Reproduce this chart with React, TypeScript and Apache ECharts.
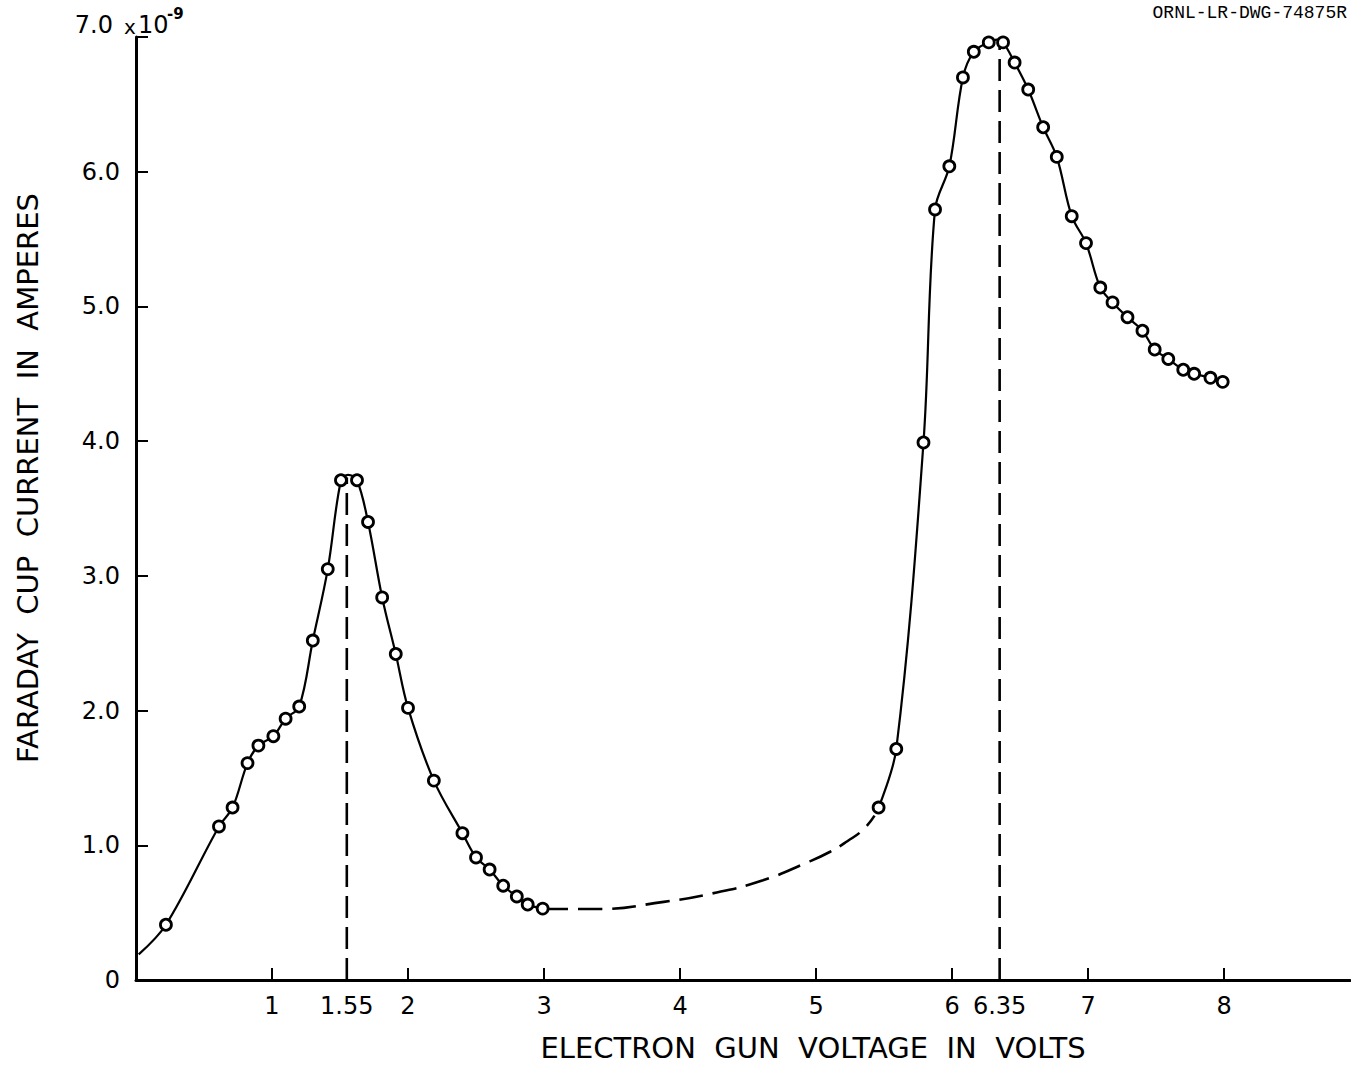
import React, { useEffect, useRef } from "react";
import * as echarts from "echarts";

// Measured points (voltage in V, current in units of 1e-9 A)
const pointV = [
  0.22, 0.61, 0.71, 0.82, 0.9, 1.01, 1.1, 1.2, 1.3, 1.41, 1.507, 1.625, 1.706, 1.81, 1.91, 2.0,
  2.19, 2.4, 2.5, 2.6, 2.7, 2.8, 2.88, 2.99,
  5.46, 5.59, 5.79, 5.875, 5.98, 6.08, 6.16, 6.27, 6.375, 6.46, 6.56, 6.67, 6.77, 6.88, 6.985,
  7.09, 7.18, 7.29, 7.4, 7.49, 7.59, 7.7, 7.78, 7.9, 7.99,
];
const pointI = [
  0.41, 1.14, 1.28, 1.61, 1.74, 1.81, 1.94, 2.03, 2.52, 3.05, 3.71, 3.71, 3.4, 2.84, 2.42, 2.02,
  1.48, 1.09, 0.91, 0.82, 0.7, 0.62, 0.56, 0.53,
  1.28, 1.715, 3.99, 5.72, 6.04, 6.7, 6.89, 6.96, 6.96, 6.81, 6.61, 6.33, 6.11, 5.67, 5.47,
  5.14, 5.03, 4.92, 4.82, 4.68, 4.61, 4.53, 4.5, 4.47, 4.44,
];

// Extra points on the drawn curve (start of curve and apexes)
const curveOnlyV = [0.02, 1.56, 6.33];
const curveOnlyI = [0.19, 3.75, 6.98];

// Dashed (unmeasured) section of the curve, read along the drawn dashes
const gapV = [3.0, 3.39, 3.88, 4.27, 4.61, 4.93, 5.1, 5.23, 5.35, 5.43];
const gapI = [0.527, 0.527, 0.58, 0.65, 0.74, 0.87, 0.95, 1.03, 1.12, 1.22];

// Peak markers (vertical dashed lines)
const peakV = [1.55, 6.35];
const peakI = [3.73, 6.97];

// Axis ticks/labels
const xTickValues = [1, 2, 3, 4, 5, 6, 7, 8];
const xLabelValues = [1, 1.55, 2, 3, 4, 5, 6, 6.35, 7, 8];
const yMax = 7;

const FONT = "DejaVu Sans";

export default function App() {
  const ref = useRef<HTMLDivElement>(null);

  useEffect(() => {
    if (!ref.current) return;
    const chart = echarts.init(ref.current, undefined, { renderer: "svg" });

    const all = pointV.map((v, i) => [v, pointI[i]]).concat(curveOnlyV.map((v, i) => [v, curveOnlyI[i]]));
    all.sort((a, b) => a[0] - b[0]);
    const leftCurve = all.filter((p) => p[0] <= 3.05);
    const rightCurve = all.filter((p) => p[0] >= 5.4);
    const points = pointV.map((v, i) => [v, pointI[i]]);
    const gap = gapV.map((v, i) => [v, gapI[i]]);

    const lineStyle = { color: "#000", width: 2.2 };

    const series: any[] = [
      {
        type: "line",
        data: leftCurve,
        smooth: 0.35,
        showSymbol: false,
        symbol: "none",
        lineStyle,
        z: 2,
      },
      {
        type: "line",
        data: rightCurve,
        smooth: 0.35,
        showSymbol: false,
        symbol: "none",
        lineStyle,
        z: 2,
      },
      {
        type: "line",
        data: gap,
        smooth: 0.5,
        showSymbol: false,
        symbol: "none",
        lineStyle: { color: "#000", width: 2.6, type: [24, 10] },
        z: 2,
      },
    ];
    peakV.forEach((v, i) => {
      series.push({
        type: "line",
        data: [
          [v, 0],
          [v, peakI[i]],
        ],
        showSymbol: false,
        symbol: "none",
        lineStyle: { color: "#000", width: 2.6, type: [22, 9] },
        z: 2,
      });
    });
    series.push({
      type: "scatter",
      data: points,
      symbol: "circle",
      symbolSize: 11,
      itemStyle: { color: "#fff", borderColor: "#000", borderWidth: 2.8, opacity: 1 },
      z: 5,
    });

    chart.setOption({
      animation: false,
      backgroundColor: "#fff",
      grid: { left: 136, right: 1, top: 37, bottom: 86, containLabel: false },
      xAxis: {
        type: "value",
        min: 0,
        max: 8.926,
        axisLine: { show: true, lineStyle: { color: "#000", width: 3 } },
        axisTick: {
          show: true,
          inside: true,
          length: 12,
          customValues: xTickValues,
          lineStyle: { color: "#000", width: 2 },
        },
        axisLabel: {
          customValues: xLabelValues,
          formatter: (v: number) => String(v),
          color: "#000",
          fontFamily: FONT,
          fontSize: 24,
          margin: 14,
          showMinLabel: true,
          showMaxLabel: true,
        },
        splitLine: { show: false },
      },
      yAxis: {
        type: "value",
        min: 0,
        max: yMax,
        interval: 1,
        axisLine: { show: true, lineStyle: { color: "#000", width: 3 } },
        axisTick: { show: true, inside: true, length: 12, lineStyle: { color: "#000", width: 2 } },
        axisLabel: {
          formatter: (v: number) => (v === 0 ? "0" : v === yMax ? "" : v.toFixed(1)),
          color: "#000",
          fontFamily: FONT,
          fontSize: 24,
          margin: 16,
        },
        splitLine: { show: false },
      },
      graphic: [
        {
          type: "text",
          x: 113,
          y: 25,
          style: { text: "7.0", fill: "#000", font: `24px "${FONT}"`, textAlign: "right", textVerticalAlign: "middle" },
        },
        {
          type: "text",
          x: 124,
          y: 27,
          style: { text: "x", fill: "#000", font: `20px "${FONT}"`, textAlign: "left", textVerticalAlign: "middle" },
        },
        {
          type: "text",
          x: 138,
          y: 25,
          style: { text: "10", fill: "#000", font: `24px "${FONT}"`, textAlign: "left", textVerticalAlign: "middle" },
        },
        {
          type: "text",
          x: 167,
          y: 14,
          style: { text: "-9", fill: "#000", font: `bold 15px "${FONT}"`, textAlign: "left", textVerticalAlign: "middle" },
        },
        {
          type: "text",
          x: 1347,
          y: 13,
          style: {
            text: "ORNL-LR-DWG-74875R",
            fill: "#000",
            font: `18px "Liberation Mono"`,
            textAlign: "right",
            textVerticalAlign: "middle",
          },
        },
        {
          type: "text",
          x: 813,
          y: 1048,
          style: {
            text: "ELECTRON  GUN  VOLTAGE  IN  VOLTS",
            fill: "#000",
            font: `29px "${FONT}"`,
            textAlign: "center",
            textVerticalAlign: "middle",
          },
        },
        {
          type: "text",
          x: 28,
          y: 478,
          rotation: Math.PI / 2,
          style: {
            text: "FARADAY  CUP  CURRENT  IN  AMPERES",
            fill: "#000",
            font: `29px "${FONT}"`,
            textAlign: "center",
            textVerticalAlign: "middle",
          },
        },
      ],
      series,
    });

    return () => chart.dispose();
  }, []);

  return (
    <div
      ref={ref}
      style={{ position: "absolute", left: 0, top: 0, width: 1351, height: 1066, background: "#fff" }}
    />
  );
}
